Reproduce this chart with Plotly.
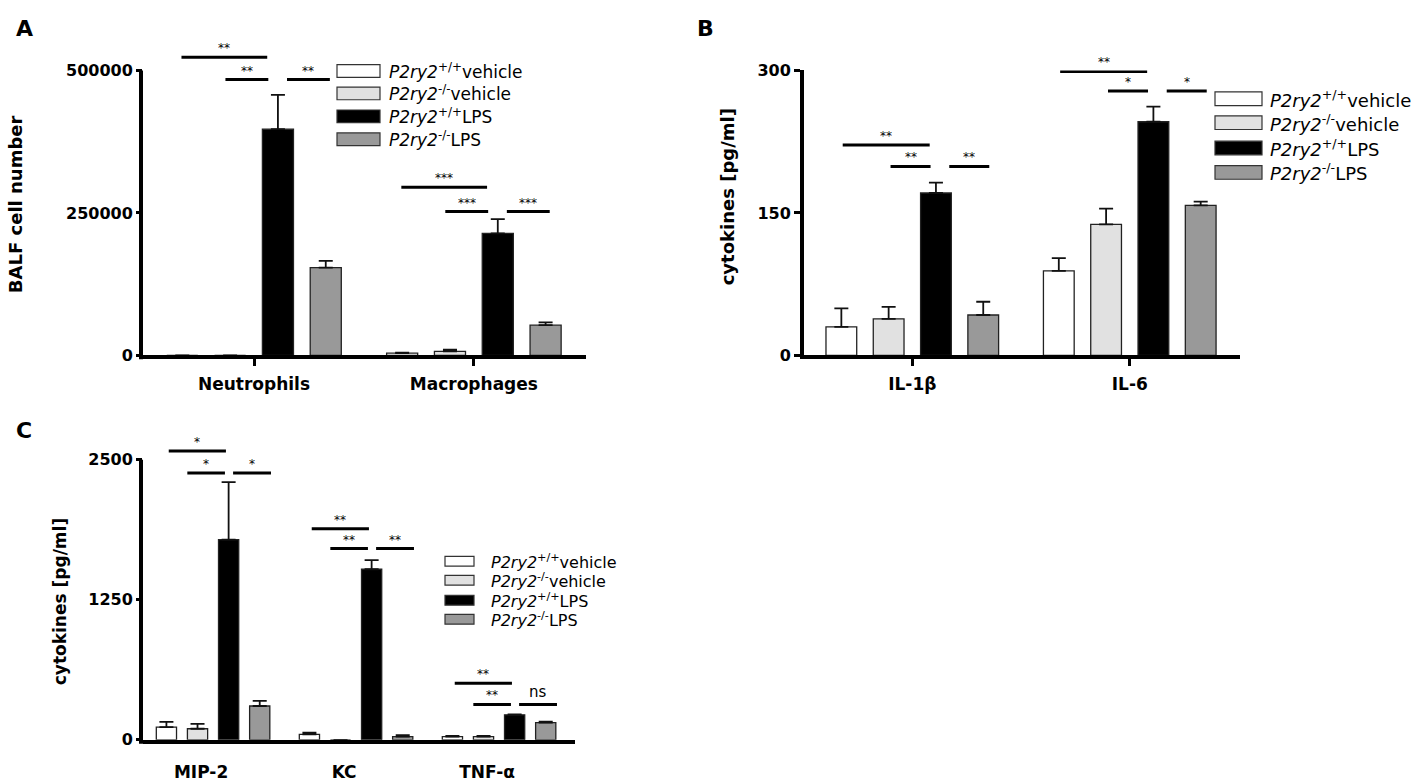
import plotly.graph_objects as go

W, H = 1417, 783

legend_labels = [
    "<i>P2ry2</i><sup>+/+</sup>vehicle",
    "<i>P2ry2</i><sup>-/-</sup>vehicle",
    "<i>P2ry2</i><sup>+/+</sup>LPS",
    "<i>P2ry2</i><sup>-/-</sup>LPS",
]
bar_colors = ["#ffffff", "#e1e1e1", "#000000", "#999999"]

# panel A - BALF cells (mean, sem) per group, one list per genotype/treatment
cells = ["Neutrophils", "Macrophages"]
cells_mean = [[0, 4000], [0, 7000], [397000, 214000], [154000, 53000]]
cells_sem = [[0, 1000], [0, 3000], [60000, 25000], [12000, 5000]]

# panel B - IL-1b / IL-6
cyto_b = ["IL-1β", "IL-6"]
cyto_b_mean = [[30, 89], [38.5, 138], [171, 246], [42.5, 158]]
cyto_b_sem = [[19.5, 13.5], [12.5, 16.5], [11, 16], [14, 4]]

# panel C - chemokines / TNF
cyto_c = ["MIP-2", "KC", "TNF-α"]
cyto_c_mean = [[113, 49, 29], [99, 0, 29], [1787, 1523, 223], [302, 29, 154]]
cyto_c_sem = [[47, 15, 6], [43, 0, 6], [513, 81, 3], [46, 12, 8]]

# significance brackets: (top level, lower level) per category + labels
sig_a_y = [[523000, 484000], [295000, 252500]]
sig_a_txt = [["**", "**", "**"], ["***", "***", "***"]]
sig_b_y = [[221.5, 199], [299, 278.5]]
sig_b_txt = [["**", "**", "**"], ["**", "*", "*"]]
sig_c_y = [[2578, 2381], [1885, 1708], [505, 316]]
sig_c_txt = [["*", "*", "*"], ["**", "**", "**"], ["**", "**", "ns"]]

FONT = "DejaVu Sans"


def px(x):
    return x / W


def py(y):
    return 1 - y / H


# panel geometry in pixels: left, right, bottom, last tick, top of drawing area
geo_a = (143, 586, 355, 63, 30)
geo_b = (804, 1240, 355, 63, 63)
geo_c = (143, 575, 749, 462, 438)

fig = go.Figure()

panels = [
    ("x", "y", cells, cells_mean, cells_sem, sig_a_y, sig_a_txt,
     [(-0.33, 0.06), (-0.13, 0.065), (0.15, 0.345)]),
    ("x2", "y2", cyto_b, cyto_b_mean, cyto_b_sem, sig_b_y, sig_b_txt,
     [(-0.32, 0.08), (-0.10, 0.084), (0.17, 0.354)]),
    ("x3", "y3", cyto_c, cyto_c_mean, cyto_c_sem, sig_c_y, sig_c_txt,
     [(-0.31, 0.09), (-0.18, 0.083), (0.14, 0.405)]),
]

annotations = []
for xa, ya, cats, means, sems, sig_y, sig_txt, spans in panels:
    xs = list(range(len(cats)))
    for i in range(4):
        fig.add_trace(go.Bar(
            x=xs, y=means[i], xaxis=xa, yaxis=ya,
            marker=dict(color=bar_colors[i], line=dict(color="#222222", width=1.3)),
            error_y=dict(type="data", array=sems[i], arrayminus=[0] * len(xs),
                         symmetric=False, color="#111111", thickness=1.8, width=7),
            showlegend=False, hoverinfo="skip",
        ))
    # brackets
    bx, by = [], []
    for k, (top, low) in enumerate(sig_y):
        levels = [top, low, low]
        for j, (a, b) in enumerate(spans):
            bx += [k + a, k + b, None]
            by += [levels[j], levels[j], None]
            t = sig_txt[k][j]
            annotations.append(dict(
                x=k + (a + b) / 2, y=levels[j], xref=xa, yref=ya, text=t,
                showarrow=False, yanchor="bottom", yshift=0 if t != "ns" else 1,
                font=dict(family=FONT, size=12 if t != "ns" else 15, color="black"),
            ))
    fig.add_trace(go.Scatter(
        x=bx, y=by, xaxis=xa, yaxis=ya, mode="lines",
        line=dict(color="black", width=3), cliponaxis=False,
        showlegend=False, hoverinfo="skip",
    ))

axis_common = dict(showgrid=False, zeroline=False, showline=True, linecolor="black",
                   linewidth=4, ticks="outside", tickcolor="black", ticklen=6,
                   tickwidth=3, tickfont=dict(family=FONT, size=16, color="black", weight="bold"))
xfont = dict(family=FONT, size=17, color="black", weight="bold")


def y_domain(g):
    return [py(g[2]), py(g[4])]


def y_top(g, last):
    # value at the top of the drawing area, so that `last` sits on the last tick
    return last * (g[2] - g[4]) / (g[2] - g[3])


fig.update_layout(
    xaxis=dict(axis_common, domain=[px(geo_a[0]), px(geo_a[1])], anchor="y",
               range=[-0.505, 1.51], tickvals=[0, 1], ticktext=cells, tickfont=xfont,
               ticklen=7, ticklabelstandoff=3),
    yaxis=dict(axis_common, domain=y_domain(geo_a), anchor="x", showline=False,
               range=[0, y_top(geo_a, 500000)], tickvals=[0, 250000, 500000], tickformat="d"),
    xaxis2=dict(axis_common, domain=[px(geo_b[0]), px(geo_b[1])], anchor="y2",
                range=[-0.498, 1.507], tickvals=[0, 1], ticktext=cyto_b, tickfont=xfont,
                ticklen=7, ticklabelstandoff=3),
    yaxis2=dict(axis_common, domain=y_domain(geo_b), anchor="x2", range=[0, 300],
                tickvals=[0, 150, 300]),
    xaxis3=dict(axis_common, domain=[px(geo_c[0]), px(geo_c[1])], anchor="y3",
                range=[-0.49, 2.531], tickvals=[0, 1, 2], ticktext=cyto_c, ticks="",
                ticklabelshift=-12, ticklabelstandoff=14, tickfont=xfont),
    yaxis3=dict(axis_common, domain=y_domain(geo_c), anchor="x3", showline=False,
                range=[0, y_top(geo_c, 2500)], tickvals=[0, 1250, 2500]),
    barmode="group", bargap=0.13, bargroupgap=0.35,
    plot_bgcolor="rgba(0,0,0,0)", paper_bgcolor="white",
    width=W, height=H, margin=dict(l=0, r=0, t=0, b=0),
    font=dict(family=FONT, color="black"),
)

shapes = []
# y spines of A and C stop at the last tick, as in the original figure
for g in (geo_a, geo_c):
    shapes.append(dict(type="line", xref="paper", yref="paper",
                       x0=px(g[0] - 2), x1=px(g[0] - 2), y0=py(g[2] + 4), y1=py(g[3]),
                       line=dict(color="black", width=4)))

# y axis titles and panel letters
for txt, x, y, size in [("BALF cell number", 15, 200, 18),
                        ("cytokines [pg/ml]", 727, 193, 18),
                        ("cytokines [pg/ml]", 60, 608, 17)]:
    annotations.append(dict(x=px(x), y=py(y), xref="paper", yref="paper", text=txt,
                            textangle=-90, showarrow=False, xanchor="center", yanchor="middle",
                            font=dict(family=FONT, size=size, color="black", weight="bold")))
for txt, x, y in [("A", 24, 20), ("B", 705, 20), ("C", 24, 432)]:
    annotations.append(dict(x=px(x), y=py(y), xref="paper", yref="paper", text=txt,
                            showarrow=False, xanchor="center", yanchor="middle",
                            font=dict(family=FONT, size=22, color="black", weight="bold")))

# hand-drawn legends (box x0, x1, row centres, box height, text x, font size)
legends = [
    (337, 380, [63.5, 86.5, 110, 133.5], 13, 387, 17),
    (1215, 1262, [92, 116.5, 142.5, 167.5], 14, 1268, 18),
    (445, 474, [566, 585.5, 606, 625.5], 10, 489, 16),
]
for x0, x1, rows, bh, tx, fs in legends:
    for i, yc in enumerate(rows):
        shapes.append(dict(type="rect", xref="paper", yref="paper",
                           x0=px(x0), x1=px(x1), y0=py(yc + bh / 2), y1=py(yc - bh / 2),
                           fillcolor=bar_colors[i], line=dict(color="#333333", width=1.2)))
        annotations.append(dict(x=px(tx), y=py(yc), xref="paper", yref="paper",
                                text=legend_labels[i], showarrow=False,
                                xanchor="left", yanchor="middle",
                                font=dict(family=FONT, size=fs, color="black")))

fig.update_layout(annotations=annotations, shapes=shapes)

fig.write_html("out.html", config={"displayModeBar": False},
               post_script="document.body.style.margin='0px';")
